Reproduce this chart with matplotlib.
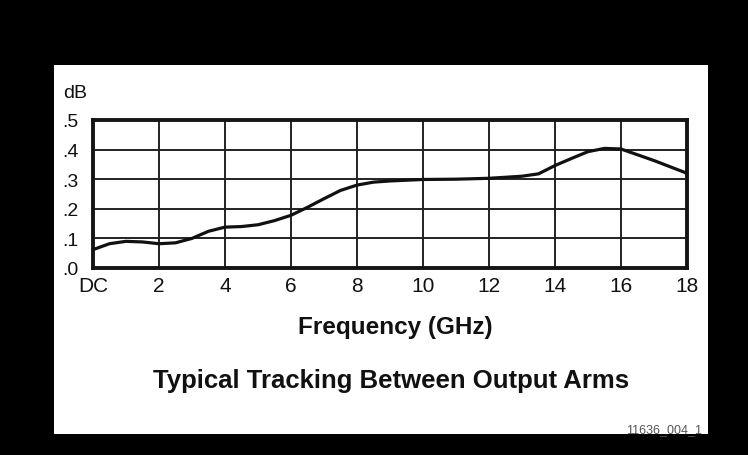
import numpy as np
import matplotlib
matplotlib.use("Agg")
import matplotlib.pyplot as plt
import matplotlib.transforms as mtransforms
from matplotlib.patches import Rectangle

# tracking between output arms (GHz, dB)
freq_ghz = [0, 0.5, 1, 1.5, 2, 2.5, 3, 3.5, 4, 4.5, 5, 5.5, 6, 6.5, 7, 7.5,
            8, 8.5, 9, 10, 11, 12, 13, 13.5, 14, 14.5, 15, 15.5, 16, 17, 18]
tracking_db = [0.062, 0.082, 0.090, 0.088, 0.082, 0.085, 0.100, 0.124, 0.138,
               0.140, 0.146, 0.160, 0.178, 0.205, 0.234, 0.262, 0.280, 0.290,
               0.294, 0.299, 0.300, 0.303, 0.310, 0.318, 0.346, 0.370, 0.393,
               0.404, 0.402, 0.363, 0.320]

x_ticks = [0, 2, 4, 6, 8, 10, 12, 14, 16, 18]
x_labels = ["DC", "2", "4", "6", "8", "10", "12", "14", "16", "18"]
y_ticks = [0.0, 0.1, 0.2, 0.3, 0.4, 0.5]
y_labels = [".0", ".1", ".2", ".3", ".4", ".5"]

narrow = ["Liberation Sans Narrow", "Liberation Sans", "DejaVu Sans"]
plain = ["Liberation Sans", "DejaVu Sans"]

fig = plt.figure(figsize=(7.48, 4.56), dpi=100, facecolor="black")

# white card on the black background
fig.patches.append(Rectangle((0.0722, 0.0461), 0.8743, 0.8092,
                             transform=fig.transFigure, facecolor="white",
                             edgecolor="none", zorder=-10))

ax = fig.add_axes([0.1243, 0.4101, 0.7941, 0.3246])
ax.set_facecolor("white")
ax.plot(freq_ghz, tracking_db, color="#111111", lw=2.3, solid_capstyle="round",
        solid_joinstyle="round", zorder=3)

ax.set_xlim(0, 18)
ax.set_ylim(0, 0.5)
ax.set_xticks(x_ticks)
ax.set_xticklabels(x_labels, family=narrow, fontsize=15)
ax.set_yticks(y_ticks)
ax.set_yticklabels(y_labels, family=narrow, fontsize=14)
# labels sit a touch below their grid lines in the original
shift = mtransforms.ScaledTranslation(0, -4 / 100, fig.dpi_scale_trans)
for lab in ax.get_yticklabels():
    lab.set_horizontalalignment("left")
    lab.set_transform(lab.get_transform() + shift)
ax.tick_params(axis="y", length=0, pad=22, colors="#111111")
ax.tick_params(axis="x", length=0, pad=6, colors="#111111")
ax.grid(True, color="#222222", lw=1.4)
ax.set_axisbelow(True)
for s in ax.spines.values():
    s.set_linewidth(2.8)
    s.set_color("#151515")

fig.text(0.0842, 0.785, "dB", family=narrow, fontsize=14, color="#111111",
         ha="left", va="baseline")
fig.text(0.529, 0.2675, "Frequency (GHz)", family=plain, fontsize=17.5,
         fontweight="bold", color="#111111", ha="center", va="baseline")
fig.text(0.523, 0.1491, "Typical Tracking Between Output Arms", family=plain,
         fontsize=18.5, fontweight="bold", color="#111111", ha="center",
         va="baseline")
fig.text(0.9385, 0.0504, "11636_004_1", family=narrow, fontsize=9,
         color="#555555", ha="right", va="baseline")

fig.savefig("out.png", dpi=100, facecolor="black")
